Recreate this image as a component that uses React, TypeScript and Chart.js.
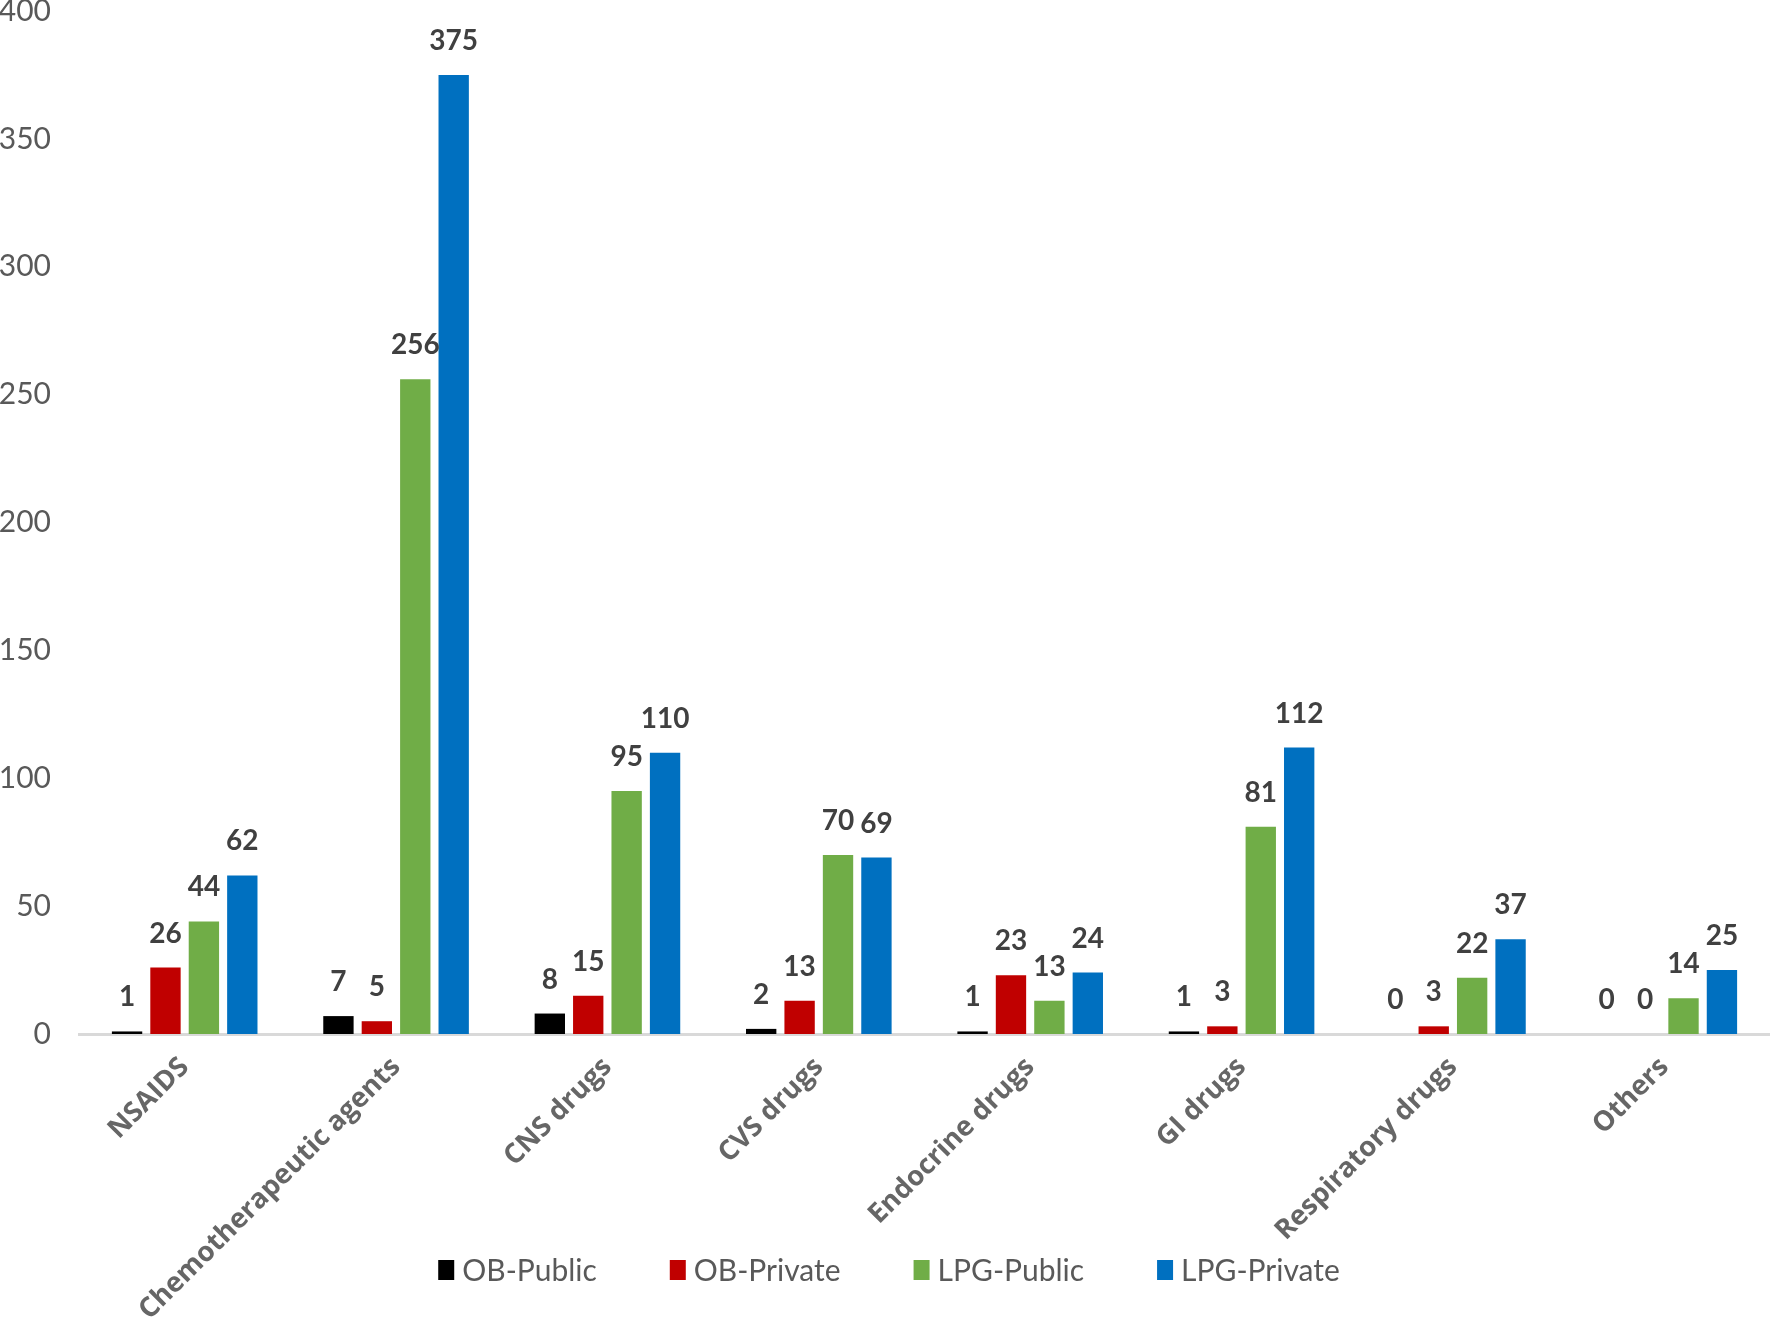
import React, { useEffect, useRef } from "react";
import { Chart, registerables } from "chart.js";

Chart.register(...registerables);

const categories = [
  "NSAIDS",
  "Chemotherapeutic agents",
  "CNS drugs",
  "CVS drugs",
  "Endocrine drugs",
  "GI drugs",
  "Respiratory drugs",
  "Others",
];
const obPublic = [1, 7, 8, 2, 1, 1, 0, 0];
const obPrivate = [26, 5, 15, 13, 23, 3, 3, 0];
const lpgPublic = [44, 256, 95, 70, 13, 81, 22, 14];
const lpgPrivate = [62, 375, 110, 69, 24, 112, 37, 25];
const seriesNames = ["OB-Public", "OB-Private", "LPG-Public", "LPG-Private"];
const seriesColors = ["#000000", "#C00000", "#70AD47", "#0070C0"];

const FONT = "Lato, 'Open Sans', 'DejaVu Sans', sans-serif";
const TICK_FONT = "'Open Sans', Lato, 'DejaVu Sans', sans-serif";

const valueLabels = {
  id: "valueLabels",
  afterDatasetsDraw(chart: any) {
    const ctx = chart.ctx;
    ctx.save();
    ctx.font = `bold 28px ${FONT}`;
    ctx.fillStyle = "#404040";
    ctx.textAlign = "center";
    ctx.textBaseline = "alphabetic";
    chart.data.datasets.forEach((ds: any, di: number) => {
      const meta = chart.getDatasetMeta(di);
      meta.data.forEach((el: any, i: number) => {
        ctx.fillText(String(ds.data[i]), el.x, el.y - 25);
      });
    });
    ctx.restore();
  },
};

// Legend drawn at the bottom (the x-axis box must reach the canvas bottom so
// the long rotated category labels are not clipped).
const bottomLegend = {
  id: "bottomLegend",
  afterDraw(chart: any) {
    const ctx = chart.ctx;
    const boxW = 16;
    const boxH = 20;
    const gap = 8;
    const spacing = 73;
    const centerX = 889;
    const centerY = 1270;
    ctx.save();
    ctx.font = `30px ${FONT}`;
    const items = chart.data.datasets.map((ds: any) => ({
      text: ds.label,
      color: ds.backgroundColor,
      w: ctx.measureText(ds.label).width,
    }));
    const total =
      items.reduce((s: number, it: any) => s + boxW + gap + it.w, 0) +
      spacing * (items.length - 1);
    let x = centerX - total / 2;
    ctx.textBaseline = "middle";
    ctx.textAlign = "left";
    items.forEach((it: any) => {
      ctx.fillStyle = it.color;
      ctx.fillRect(x, centerY - boxH / 2, boxW, boxH);
      ctx.fillStyle = "#595959";
      ctx.fillText(it.text, x + boxW + gap, centerY + 1);
      x += boxW + gap + it.w + spacing;
    });
    ctx.restore();
  },
};

export default function App() {
  const ref = useRef<HTMLCanvasElement | null>(null);
  useEffect(() => {
    document.body.style.margin = "0";
    const data = [obPublic, obPrivate, lpgPublic, lpgPrivate];
    const chart = new Chart(ref.current as HTMLCanvasElement, {
      type: "bar",
      data: {
        labels: categories,
        datasets: data.map((d, i) => ({
          label: seriesNames[i],
          data: d,
          backgroundColor: seriesColors[i],
          borderWidth: 0,
          categoryPercentage: 0.727,
          barPercentage: 0.79,
        })),
      },
      options: {
        responsive: false,
        animation: false,
        devicePixelRatio: 1,
        layout: { padding: 0 },
        plugins: {
          legend: { display: false },
          tooltip: { enabled: false },
        },
        scales: {
          x: {
            grid: { display: false, drawTicks: false },
            border: { display: true, color: "#D9D9D9", width: 3 },
            ticks: {
              autoSkip: false,
              maxRotation: 45,
              minRotation: 45,
              padding: 17,
              color: "#666666",
              font: { family: TICK_FONT, size: 27.5, weight: "bold" },
            },
            afterFit(scale: any) {
              scale.height = 289;
              scale.paddingLeft = 0;
              scale.paddingRight = 0;
            },
          },
          y: {
            min: 0,
            max: 400,
            grid: { display: false, drawTicks: false },
            border: { display: false },
            ticks: {
              stepSize: 50,
              padding: 28,
              color: "#595959",
              font: { family: FONT, size: 30, lineHeight: 1 },
            },
            afterFit(scale: any) {
              scale.width = 79;
              scale.paddingTop = 11;
              scale.paddingBottom = 0;
            },
          },
        },
      },
      plugins: [valueLabels, bottomLegend],
    } as any);
    return () => chart.destroy();
  }, []);
  return (
    <div style={{ width: 1770, height: 1323, background: "#fff" }}>
      <canvas ref={ref} width={1770} height={1323} />
    </div>
  );
}
